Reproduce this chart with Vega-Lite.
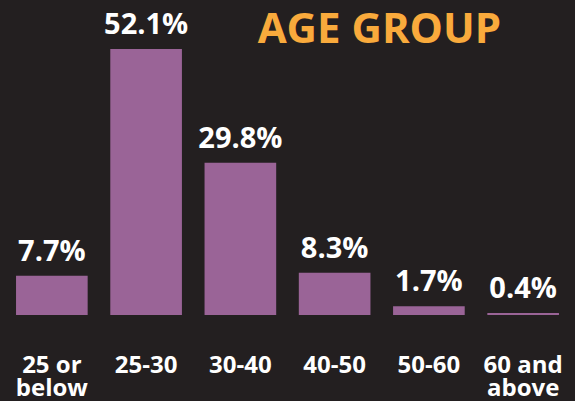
{
  "$schema": "https://vega.github.io/schema/vega-lite/v6.json",
  "width": 575,
  "height": 401,
  "autosize": {"type": "none"},
  "padding": 0,
  "background": "#231f20",
  "datasets": {
    "ages": [
      {"age": "25 or below", "value": 7.7, "label": "7.7%"},
      {"age": "25-30", "value": 52.1, "label": "52.1%"},
      {"age": "30-40", "value": 29.8, "label": "29.8%"},
      {"age": "40-50", "value": 8.3, "label": "8.3%"},
      {"age": "50-60", "value": 1.7, "label": "1.7%"},
      {"age": "60 and above", "value": 0.4, "label": "0.4%"}
    ],
    "heading": [
      {"age": "60 and above", "value": 53.27, "label": "AGE GROUP"}
    ]
  },
  "layer": [
    {
      "data": {"name": "ages"},
      "mark": {"type": "bar", "color": "#9a6497"},
      "encoding": {
        "x": {
          "field": "age",
          "type": "nominal",
          "sort": null,
          "scale": {"paddingInner": 0.24, "paddingOuter": 0.17},
          "axis": {
            "title": null,
            "domain": false,
            "ticks": false,
            "offset": -86,
            "labelAngle": 0,
            "labelColor": "#ffffff",
            "labelFont": "Open Sans",
            "labelFontWeight": "bold",
            "labelFontSize": 24,
            "labelPadding": 38,
            "labelLineHeight": 23,
            "labelBaseline": "top",
            "labelExpr": "datum.label == '25 or below' ? ['25 or', 'below'] : datum.label == '60 and above' ? ['60 and', 'above'] : datum.label"
          }
        },
        "y": {
          "field": "value",
          "type": "quantitative",
          "scale": {"domain": [-16.84, 61.69], "zero": false, "nice": false},
          "axis": null
        }
      }
    },
    {
      "data": {"name": "ages"},
      "mark": {
        "type": "text",
        "baseline": "alphabetic",
        "dy": -15,
        "color": "#ffffff",
        "font": "Open Sans",
        "fontWeight": "bold",
        "fontSize": 29
      },
      "encoding": {
        "x": {"field": "age", "type": "nominal", "sort": null},
        "y": {"field": "value", "type": "quantitative"},
        "text": {"field": "label", "type": "nominal"}
      }
    },
    {
      "data": {"name": "heading"},
      "mark": {
        "type": "text",
        "align": "right",
        "baseline": "alphabetic",
        "dx": -22,
        "color": "#f9aa3c",
        "font": "Open Sans",
        "fontWeight": "bold",
        "fontSize": 42
      },
      "encoding": {
        "x": {"field": "age", "type": "nominal", "sort": null},
        "y": {"field": "value", "type": "quantitative"},
        "text": {"field": "label", "type": "nominal"}
      }
    }
  ],
  "config": {"view": {"stroke": null}}
}
